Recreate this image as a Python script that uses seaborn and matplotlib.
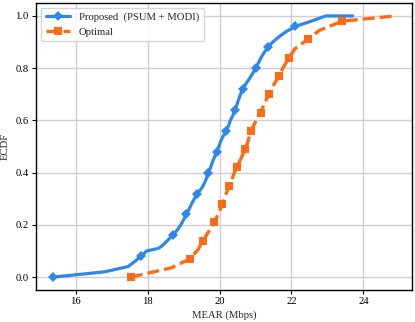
import numpy as np
import pandas as pd
import seaborn as sns
from matplotlib import pyplot as plt

# ECDF curves (x in Mbps, y = ECDF level)
proposed_ecdf = [0.00, 0.02, 0.04, 0.06, 0.08, 0.10, 0.11, 0.12, 0.14, 0.16, 0.18,
                 0.20, 0.22, 0.24, 0.26, 0.28, 0.30, 0.32, 0.34, 0.36, 0.38,
                 0.40, 0.42, 0.44, 0.46, 0.48, 0.50, 0.52, 0.54, 0.56, 0.58,
                 0.60, 0.62, 0.64, 0.66, 0.68, 0.70, 0.72, 0.74, 0.76, 0.78,
                 0.80, 0.82, 0.84, 0.86, 0.88, 0.90, 0.92, 0.94, 0.96, 0.98,
                 1.00, 1.00]
proposed_mear = [15.37, 16.80, 17.45, 17.64, 17.82, 17.97, 18.30, 18.40, 18.55, 18.69, 18.82,
                 18.92, 19.00, 19.07, 19.15, 19.22, 19.30, 19.38, 19.50, 19.58, 19.64,
                 19.68, 19.75, 19.80, 19.86, 19.92, 19.98, 20.03, 20.10, 20.18, 20.25,
                 20.30, 20.37, 20.43, 20.48, 20.53, 20.58, 20.65, 20.73, 20.83, 20.92,
                 21.01, 21.08, 21.15, 21.24, 21.34, 21.48, 21.65, 21.85, 22.11, 22.55,
                 22.95, 23.70]
# marker positions on the proposed curve (every 0.08 of the ECDF)
proposed_marks = [0, 4, 9, 13, 17, 21, 25, 29, 33, 37, 41, 45, 49]

optimal_ecdf = [0.000, 0.035, 0.070, 0.105, 0.140, 0.175, 0.210, 0.245, 0.280, 0.315,
                0.350, 0.385, 0.420, 0.455, 0.490, 0.525, 0.560, 0.595, 0.630, 0.665,
                0.700, 0.735, 0.770, 0.805, 0.840, 0.875, 0.910, 0.945, 0.980, 1.000]
optimal_mear = [17.53, 18.65, 19.18, 19.40, 19.54, 19.70, 19.85, 19.97, 20.08, 20.17,
                20.27, 20.37, 20.47, 20.60, 20.71, 20.80, 20.88, 21.00, 21.14, 21.25,
                21.37, 21.50, 21.65, 21.78, 21.93, 22.10, 22.45, 22.78, 23.41, 24.88]

labels = ['Proposed  (PSUM + MODI)', 'Optimal']

sns.set_style('whitegrid')
plt.rcParams['font.family'] = ['Liberation Serif', 'DejaVu Serif']
plt.rcParams['mathtext.fontset'] = 'stix'
fs = 7.7

fig, ax = plt.subplots(figsize=(4.15, 3.22), dpi=100)
fig.subplots_adjust(left=0.087, right=0.993, bottom=0.099, top=0.991)

sns.lineplot(x=proposed_mear, y=proposed_ecdf, sort=False, ax=ax, color='#2f87ea',
             lw=2.3, marker='D', markersize=5.5, markevery=proposed_marks,
             markeredgewidth=0, label=labels[0])
sns.lineplot(x=optimal_mear, y=optimal_ecdf, sort=False, ax=ax, color='#ff6a13',
             lw=2.4, linestyle=(0, (3.6, 1.5)), marker='s', markersize=5.8,
             markevery=2, markeredgewidth=0, label=labels[1])

ax.set_xticks([16, 18, 20, 22, 24])
ax.set_yticks([0.0, 0.2, 0.4, 0.6, 0.8, 1.0])
ax.set_yticklabels(['0.0', '0.2', '0.4', '0.6', '0.8', '1.0'])
ax.tick_params(axis='both', labelsize=fs, length=2.8, width=0.8, colors='black',
               bottom=True, left=True, direction='out', pad=2.5)
ax.set_xlabel('MEAR (Mbps)', fontsize=fs, labelpad=2.5)
ax.set_ylabel('ECDF', fontsize=fs, labelpad=4)
ax.grid(True, color='#cfcfcf', lw=1.0)
for s in ax.spines.values():
    s.set_color('black')
    s.set_linewidth(1.0)

ax.legend(loc='upper left', fontsize=fs, frameon=True, framealpha=0.8,
          borderpad=0.45, labelspacing=0.45, handlelength=2.3, handletextpad=0.8,
          borderaxespad=0.45)

plt.savefig('out.png', dpi=100)
